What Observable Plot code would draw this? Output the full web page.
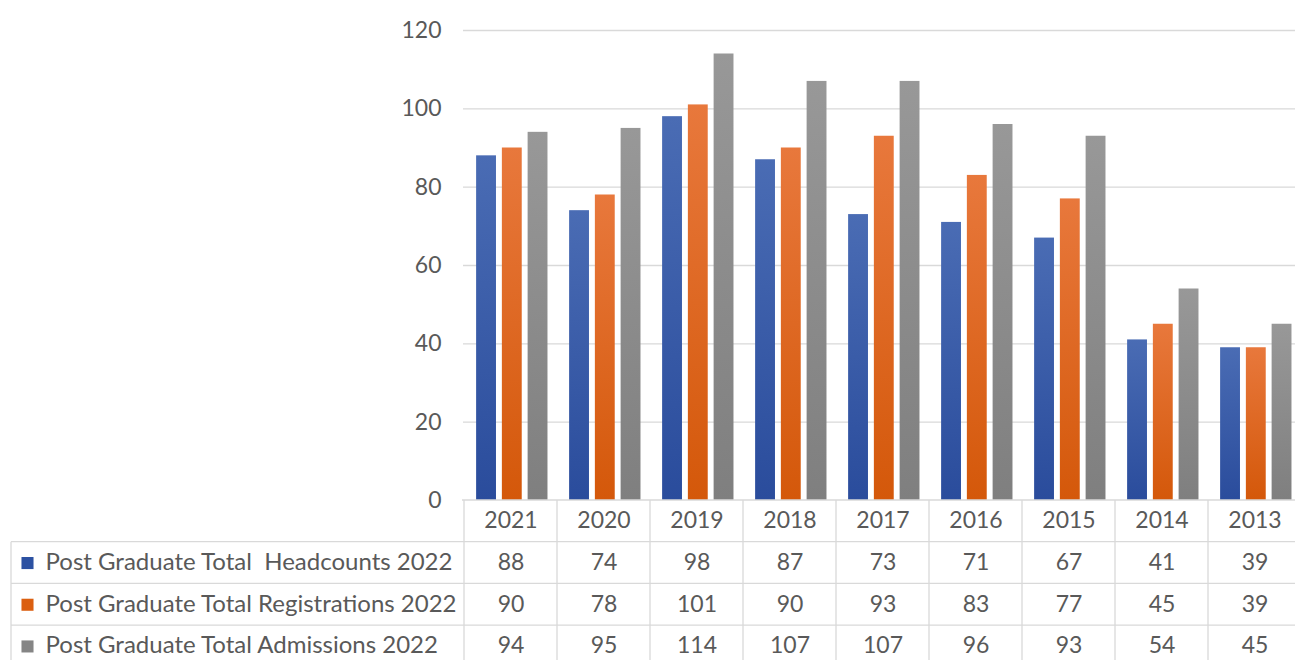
<!DOCTYPE html>
<html><head><meta charset="utf-8">
<script src="https://cdn.jsdelivr.net/npm/d3@7"></script>
<script src="https://cdn.jsdelivr.net/npm/@observablehq/plot@0.6"></script>
<style>
html,body{margin:0;padding:0;background:#fff;overflow:hidden}
#chart svg text{white-space:pre}
</style></head><body><div id="chart"></div>
<script>
// ---- data ----
const years = ["2021","2020","2019","2018","2017","2016","2015","2014","2013"];
const seriesNames = [
  "Post Graduate Total  Headcounts 2022",
  "Post Graduate Total Registrations 2022",
  "Post Graduate Total Admissions 2022"
];
const headcounts    = [88, 74, 98, 87, 73, 71, 67, 41, 39];
const registrations = [90, 78, 101, 90, 93, 83, 77, 45, 39];
const admissions    = [94, 95, 114, 107, 107, 96, 93, 54, 45];
const yTicks = [0, 20, 40, 60, 80, 100, 120];

// ---- layout / style ----
const W = 1295, H = 660;
const M = {top: 30, right: -7, bottom: 160, left: 463};
const rowH = 41.7;
const tableLeft = 11;
const gridColor = "#d9d9d9";
const textColor = "#595959";
const fontSize = 23;
const labelFontSize = 24;
const textShift = 7;
const bw = (W - M.left - M.right) / years.length;
const sub = d3.scaleBand().domain(d3.range(3)).range([0, bw])
  .paddingInner(0.22).paddingOuter(0.42).align(0.56);

const series = [
  {name: seriesNames[0], values: headcounts, grad: "gBlue", color: "#2c51a2", top: "#4a6cb4", bottom: "#2a4c9c"},
  {name: seriesNames[1], values: registrations, grad: "gOrange", color: "#db5f10", top: "#e8783c", bottom: "#d4580a"},
  {name: seriesNames[2], values: admissions, grad: "gGray", color: "#858585", top: "#989898", bottom: "#7f7f7f"}
];
const rows = series.map(s => years.map((year, i) => ({year, value: s.values[i]})));

function tableGrid(index, scales, values, dimensions) {
  const height = H;
  const x0 = M.left - 1, x1 = W - M.right, yb = H - M.bottom;
  const g = d3.create("svg:g").attr("stroke", gridColor).attr("stroke-width", 1.3).attr("fill", "none");
  g.append("line").attr("x1", x0).attr("x2", x1).attr("y1", yb).attr("y2", yb);
  for (let k = 1; k <= 3; k++) {
    const y = yb + rowH * k;
    g.append("line").attr("x1", tableLeft).attr("x2", x1).attr("y1", y).attr("y2", y);
  }
  const xs = years.map(y => scales.x(y));
  xs.push(xs[xs.length - 1] + bw);
  xs.forEach(x => g.append("line").attr("x1", x).attr("x2", x).attr("y1", yb).attr("y2", height));
  g.append("line").attr("x1", tableLeft).attr("x2", tableLeft).attr("y1", yb + rowH).attr("y2", height);
  return g.node();
}

const textOpts = {fill: textColor, fontSize, fontFamily: "Lato, sans-serif"};

const chart = Plot.plot({
  width: W, height: H,
  marginTop: M.top, marginRight: M.right, marginBottom: M.bottom, marginLeft: M.left,
  style: {fontFamily: "Lato, sans-serif", fontSize: fontSize + "px", color: textColor, background: "white"},
  x: {type: "band", domain: years, padding: 0, axis: null},
  y: {domain: [0, 120], ticks: yTicks, tickSize: 0, tickPadding: 22, label: null},
  marks: [
    Plot.ruleY(yTicks.filter(t => t > 0), {stroke: gridColor, strokeWidth: 1.3}),
    ...series.map((s, k) => Plot.barY(rows[k], {
      x: "year", y: "value", fill: `url(#${s.grad})`,
      insetLeft: sub(k), insetRight: bw - sub(k) - sub.bandwidth()
    })),
    tableGrid,
    Plot.text(years, {x: d => d, text: d => d, frameAnchor: "bottom", dy: rowH * 0.5 + textShift, ...textOpts}),
    ...rows.map((r, k) => Plot.text(r, {x: "year", text: d => String(d.value), frameAnchor: "bottom", dy: rowH * (k + 1.5) + textShift, ...textOpts})),
    ...series.map((s, k) => Plot.text([s.name], {text: d => d, frameAnchor: "bottom-left", textAnchor: "start", dx: -(M.left - 45), dy: rowH * (k + 1.5) + textShift, ...textOpts, fontSize: labelFontSize})),
    ...series.map((s, k) => Plot.dot([s.name], {frameAnchor: "bottom-left", dx: -(M.left - 27), dy: rowH * (k + 1.5), symbol: "square", r: 6.8, fill: s.color, stroke: "none"}))
  ]
});

// gradient definitions for the bars
const ns = "http://www.w3.org/2000/svg";
const defs = document.createElementNS(ns, "defs");
series.forEach(s => {
  const lg = document.createElementNS(ns, "linearGradient");
  lg.setAttribute("id", s.grad);
  lg.setAttribute("x1", "0"); lg.setAttribute("y1", "0");
  lg.setAttribute("x2", "0"); lg.setAttribute("y2", "1");
  [[0, s.top], [1, s.bottom]].forEach(([o, c]) => {
    const st = document.createElementNS(ns, "stop");
    st.setAttribute("offset", o); st.setAttribute("stop-color", c);
    lg.appendChild(st);
  });
  defs.appendChild(lg);
});
chart.insertBefore(defs, chart.firstChild);
document.getElementById("chart").appendChild(chart);
</script></body></html>
